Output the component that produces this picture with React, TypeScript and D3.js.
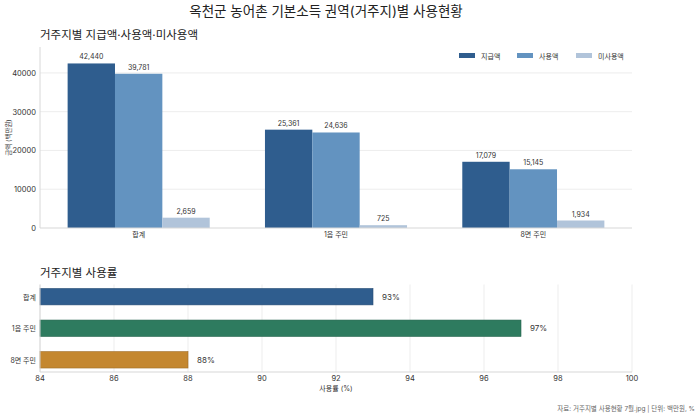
import React from "react";
import * as d3 from "d3";

const categories = ["합계", "1읍 주민", "8면 주민"];
const seriesNames = ["지급액", "사용액", "미사용액"];
const paid = [42440, 25361, 17079];
const used = [39781, 24636, 15145];
const unused = [2659, 725, 1934];
const rates = [93, 97, 88];
const yTicks = [0, 10000, 20000, 30000, 40000];
const xTicks = [84, 86, 88, 90, 92, 94, 96, 98, 100];

const W = 699;
const H = 420;
const FONT = "Inter, 'Noto Sans CJK KR', 'Noto Sans', sans-serif";
const seriesColors = ["#2f5d8e", "#6393c0", "#b1c4da"];
const rateColors = ["#2f5d8e", "#2e7b5f", "#c4872f"];

export default function App() {
  const series = [paid, used, unused];
  // top chart
  const tL = 40, tR = 632, tTop = 47, tBot = 228;
  const x0 = d3.scaleBand<string>().domain(categories).range([tL, tR]).padding(0);
  const groupW = x0.bandwidth() * 0.72;
  const x1 = d3.scaleBand<string>().domain(seriesNames).range([0, groupW]).padding(0);
  const yMax = d3.max(paid)! * 1.1;
  const y = d3.scaleLinear().domain([0, yMax]).range([tBot, tTop]);
  const fmt = d3.format(",");

  // bottom chart
  const bL = 40, bR = 632, bTop = 284.5, bBot = 372;
  const bx = d3.scaleLinear().domain([84, 100]).range([bL, bR]);
  const barH = 0.52;
  const marg = (2 + barH) * 0.05 + barH / 2;
  const by = d3.scaleLinear().domain([-marg, 2 + marg]).range([bTop, bBot]);
  const bh = by(barH) - by(0);

  const legendX = [459, 517, 576];

  return (
    <svg width={W} height={H} style={{ position: "absolute", left: 0, top: 0, background: "#fff" }} fontFamily={FONT}>
      <text x={326} y={16} textAnchor="middle" fontSize={13.5} fill="#222">옥천군 농어촌 기본소득 권역(거주지)별 사용현황</text>
      <text x={tL} y={39} fontSize={11.5} fill="#222">거주지별 지급액·사용액·미사용액</text>

      {/* top grid */}
      {yTicks.map((t) => (
        <g key={t}>
          {t > 0 && <line x1={tL} x2={tR} y1={y(t)} y2={y(t)} stroke="#e8e8e8" strokeWidth={0.8} />}
          <text x={36} y={y(t) + 3} textAnchor="end" fontSize={7.5} fill="#333">{t}</text>
        </g>
      ))}
      <line x1={tL} x2={tL} y1={tTop} y2={tBot} stroke="#d8d8d8" strokeWidth={1} />
      <text transform={`translate(11,${(tTop + tBot) / 2}) rotate(-90)`} textAnchor="middle" fontSize={6.5} fill="#333">금액 (백만원)</text>

      {categories.map((c, ci) => {
        const gx = x0(c)! + (x0.bandwidth() - groupW) / 2;
        return (
          <g key={c}>
            {seriesNames.map((s, si) => {
              const v = series[si][ci];
              const bx0 = gx + x1(s)!;
              return (
                <g key={s}>
                  <rect x={bx0} y={y(v)} width={x1.bandwidth()} height={tBot - y(v)} fill={seriesColors[si]} />
                  <text x={bx0 + x1.bandwidth() / 2} y={y(v) - 4} textAnchor="middle" fontSize={7} fill="#333">{fmt(v)}</text>
                </g>
              );
            })}
            <text x={x0(c)! + x0.bandwidth() / 2} y={237} textAnchor="middle" fontSize={7} fill="#333">{c}</text>
          </g>
        );
      })}
      <line x1={tL} x2={tR} y1={tBot} y2={tBot} stroke="#d8d8d8" strokeWidth={1.2} />

      {seriesNames.map((s, i) => (
        <g key={s}>
          <rect x={legendX[i]} y={53} width={16} height={5} fill={seriesColors[i]} />
          <text x={legendX[i] + 22} y={58.5} fontSize={7} fill="#333">{s}</text>
        </g>
      ))}

      {/* bottom chart */}
      <text x={bL} y={277} fontSize={11.5} fill="#222">거주지별 사용률</text>
      {xTicks.map((t) => (
        <g key={t}>
          <line x1={bx(t)} x2={bx(t)} y1={bTop} y2={bBot} stroke="#e8e8e8" strokeWidth={0.8} />
          <text x={bx(t)} y={381} textAnchor="middle" fontSize={7.5} fill="#333">{t}</text>
        </g>
      ))}
      {categories.map((c, i) => (
        <g key={c}>
          <rect x={bx(84)} y={by(i) - bh / 2} width={bx(rates[i]) - bx(84)} height={bh} fill={rateColors[i]} stroke={d3.color(rateColors[i])!.darker(0.6).toString()} strokeWidth={0.6} />
          <text x={bx(rates[i]) + 9} y={by(i) + 3} fontSize={8} fill="#333">{rates[i]}%</text>
          <text x={36} y={by(i) + 3} textAnchor="end" fontSize={7} fill="#333">{c}</text>
        </g>
      ))}
      <line x1={bL} x2={bR} y1={bBot} y2={bBot} stroke="#d8d8d8" strokeWidth={1.2} />
      <line x1={bL} x2={bL} y1={bTop} y2={bBot} stroke="#d8d8d8" strokeWidth={1} />
      <text x={(bL + bR) / 2} y={391} textAnchor="middle" fontSize={7} fill="#333">사용률 (%)</text>

      <text x={695} y={411} textAnchor="end" fontSize={6.5} fill="#666">자료: 거주지별 사용현황 7월.jpg  |  단위: 백만원, %</text>
    </svg>
  );
}
